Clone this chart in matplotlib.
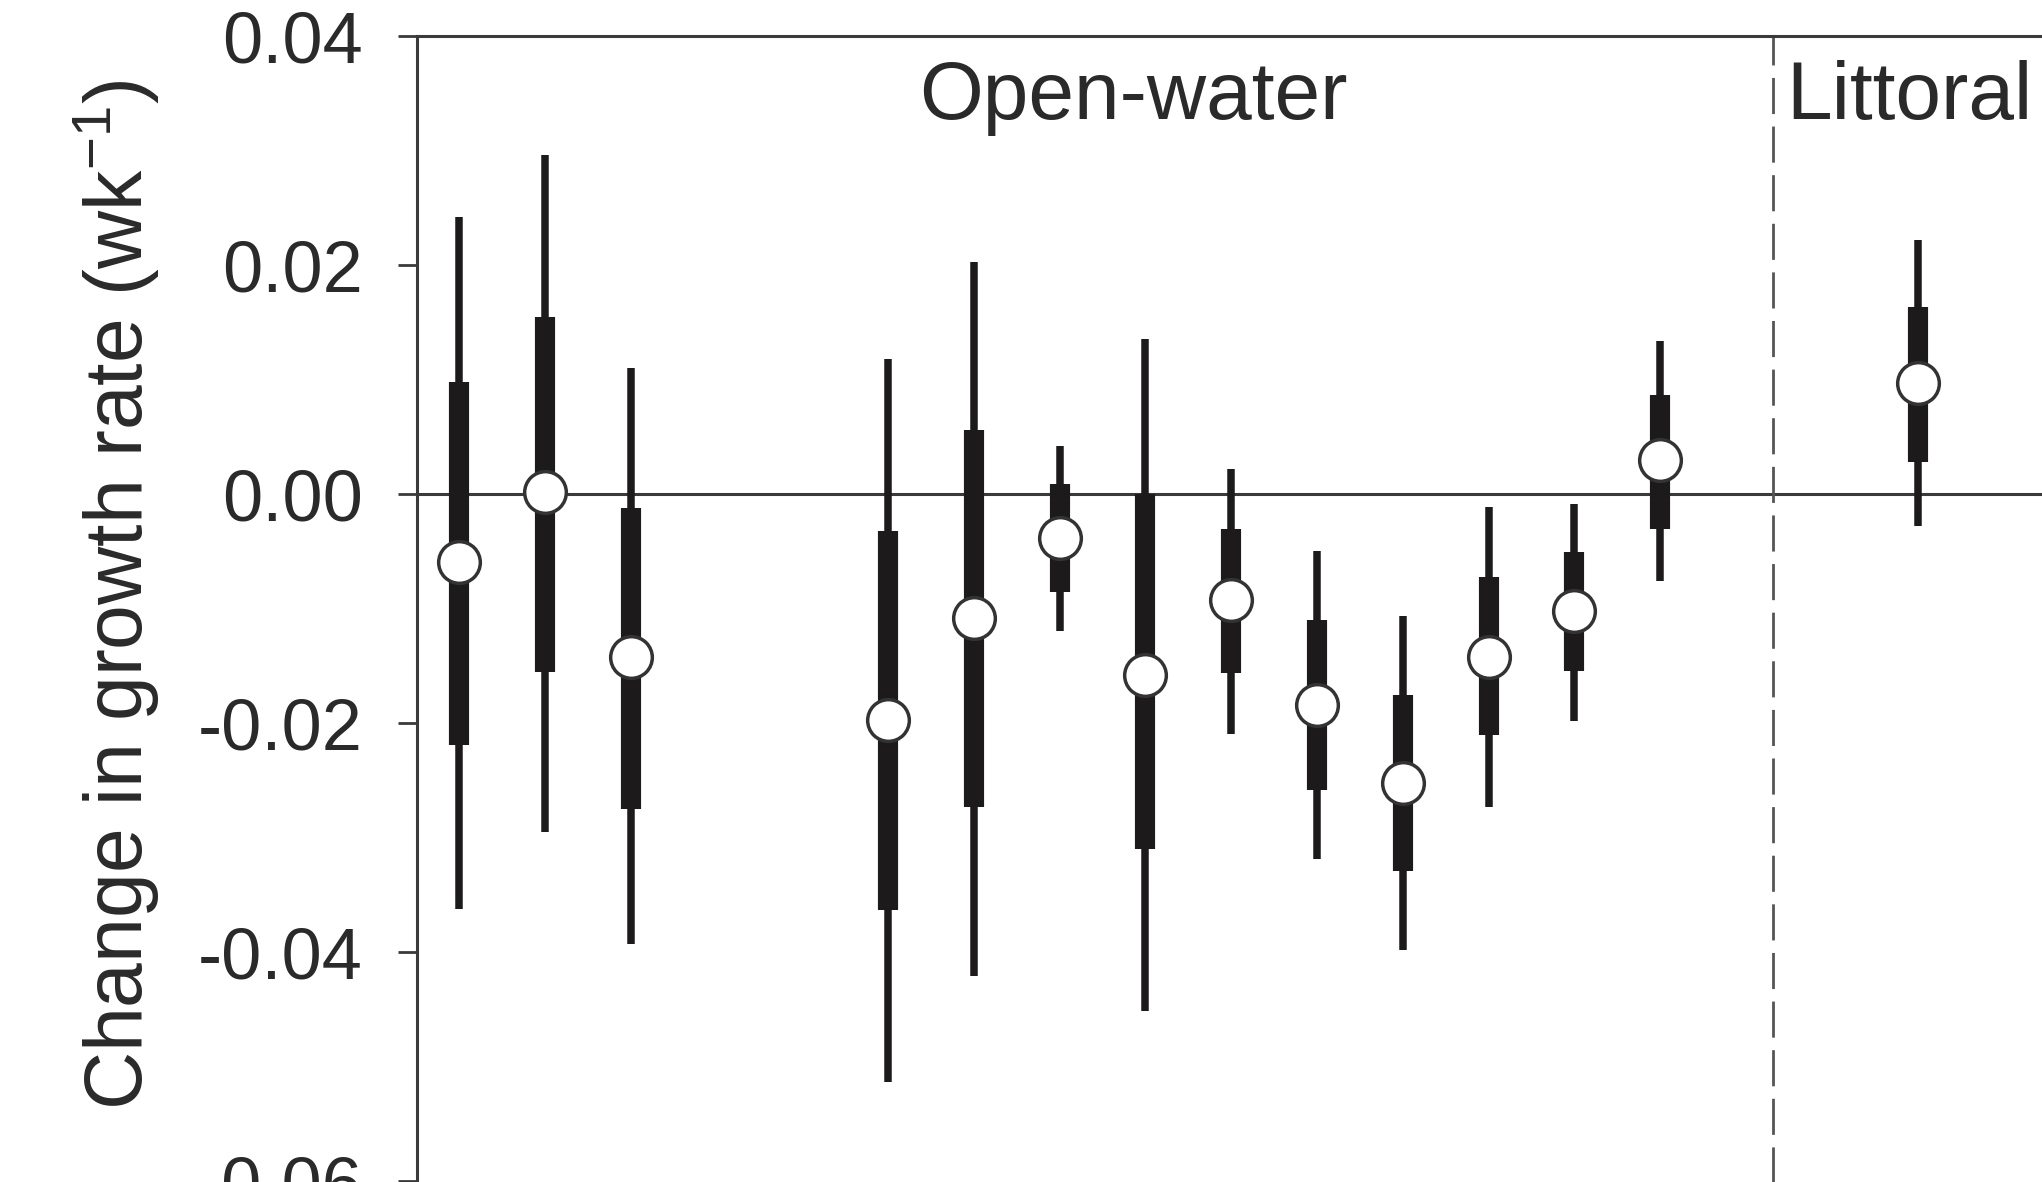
import matplotlib
matplotlib.use("Agg")
import matplotlib.pyplot as plt

plt.rcParams['font.family'] = ['Liberation Sans', 'DejaVu Sans']
plt.rcParams['mathtext.fontset'] = 'custom'
plt.rcParams['mathtext.rm'] = 'Liberation Sans'
plt.rcParams['mathtext.it'] = 'Liberation Sans:italic'
plt.rcParams['mathtext.bf'] = 'Liberation Sans:bold'
plt.rcParams['axes.unicode_minus'] = False

# positions along x (gaps as in the original figure)
xpos = [1, 2, 3, 6, 7, 8, 9, 10, 11, 12, 13, 14, 15, 18]
median = [-0.0059, 0.0002, -0.0142, -0.0197, -0.0108, -0.0038, -0.0158,
          -0.0092, -0.0184, -0.0252, -0.0142, -0.0102, 0.0030, 0.0097]
inner_lo = [-0.0219, -0.0155, -0.0275, -0.0363, -0.0273, -0.0085, -0.0310,
            -0.0156, -0.0258, -0.0329, -0.0210, -0.0154, -0.0030, 0.0028]
inner_hi = [0.0098, 0.0155, -0.0012, -0.0032, 0.0056, 0.0009, 0.0000,
            -0.0030, -0.0110, -0.0175, -0.0072, -0.0050, 0.0087, 0.0164]
outer_lo = [-0.0362, -0.0295, -0.0393, -0.0513, -0.0421, -0.0119, -0.0451,
            -0.0209, -0.0318, -0.0398, -0.0273, -0.0198, -0.0076, -0.0028]
outer_hi = [0.0242, 0.0296, 0.0110, 0.0118, 0.0203, 0.0042, 0.0136,
            0.0022, -0.0049, -0.0106, -0.0011, -0.0008, 0.0134, 0.0222]

yticks = [-0.06, -0.04, -0.02, 0.00, 0.02, 0.04]
ytick_labels = ["-0.06", "-0.04", "-0.02", "0.00", "0.02", "0.04"]
divider_x = 16.31

fig = plt.figure(figsize=(20.42, 11.82), dpi=100)
ax = fig.add_axes([0.2042, -0.0964, 0.7958, 1.0656])

spine_col = "#3a3a3a"
ink = "#1c1a1a"

ax.axhline(0, color=spine_col, lw=2.2, zorder=1)
ax.axvline(divider_x, color="#555555", lw=2, ls=(0, (13, 4.5)), zorder=1)

ax.vlines(xpos, outer_lo, outer_hi, color=ink, lw=5.4, capstyle="butt", zorder=2)
ax.vlines(xpos, inner_lo, inner_hi, color=ink, lw=14.5, capstyle="butt", zorder=3)
ax.plot(xpos, median, ls="none", marker="o", ms=30, mfc="white",
        mec="#333333", mew=2.5, zorder=4)

ax.set_xlim(0.51, 19.45)
ax.set_ylim(-0.07, 0.04)
ax.set_xticks([])
ax.set_yticks(yticks)
ax.set_yticklabels(ytick_labels)
ax.tick_params(axis="y", direction="out", length=14, width=2, pad=25,
               labelsize=52, color=spine_col, labelcolor="#2a2a2a")

for s in ["right", "bottom"]:
    ax.spines[s].set_visible(False)
for s in ["left", "top"]:
    ax.spines[s].set_color(spine_col)
    ax.spines[s].set_linewidth(2.2)

ax.text(8.86, 0.0328, "Open-water", ha="center", va="baseline",
        fontsize=59, color="#2a2a2a")
ax.text(16.47, 0.0328, "Littoral", ha="left", va="baseline",
        fontsize=59, color="#2a2a2a")

fig.text(161 / 2042, 1 - 595 / 1182, r"Change in growth rate (wk$^{-1}$)",
         rotation=90, ha="right", va="center", fontsize=58, color="#2a2a2a")

fig.savefig("out.png", dpi=100)
